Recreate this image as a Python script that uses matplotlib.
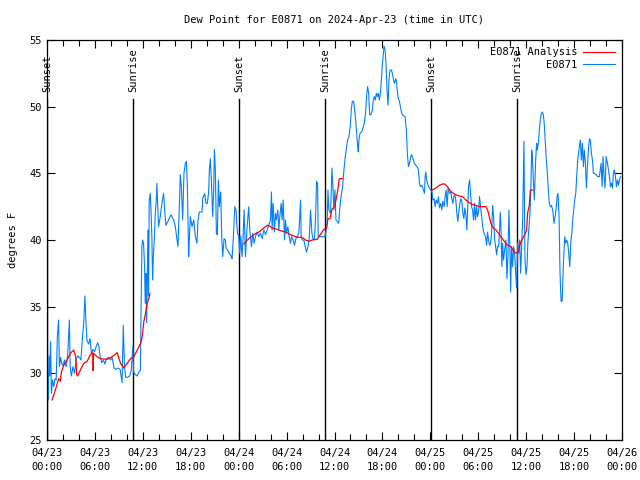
import matplotlib
matplotlib.use("Agg")
import matplotlib.pyplot as plt
import numpy as np

plt.rcParams['font.family'] = ['DejaVu Sans Mono']
plt.rcParams['font.size'] = 7.5

# hours since 04/23 00:00 UTC, dew point (F)
obs_hours = [
    0.10, 0.15, 0.25, 0.35, 0.45, 0.55, 0.70, 0.85, 1.00, 1.15, 1.30, 1.45, 1.55, 1.70, 1.85,
    2.00, 2.20, 2.40, 2.60, 2.80, 2.90, 3.05, 3.25, 3.45, 3.65, 3.85, 4.05, 4.25, 4.45, 4.60,
    4.75, 4.85, 5.00, 5.20, 5.40, 5.55, 5.75, 5.95, 6.15, 6.35, 6.50, 6.65, 6.85, 7.05, 7.25,
    7.45, 7.70, 7.95, 8.15, 8.40, 8.65, 8.90, 9.15, 9.40, 9.55, 9.70, 9.85, 10.10, 10.35, 10.55,
    10.75, 10.85, 11.05, 11.30, 11.50, 11.70,
    11.76, 11.88, 11.97, 12.09, 12.22, 12.30, 12.38, 12.47, 12.55, 12.63, 12.72, 12.80, 12.93,
    13.05, 13.14, 13.22, 13.30, 13.43, 13.56, 13.68, 13.76, 13.85, 13.97, 14.18, 14.39, 14.60,
    14.73, 14.89, 15.23, 15.52, 15.86, 16.07, 16.28, 16.40, 16.57, 16.69, 16.82, 16.99, 17.15,
    17.32, 17.45, 17.57, 17.74, 17.82, 17.95, 18.16, 18.37, 18.58,
    18.78, 18.90, 19.07, 19.41, 19.49, 19.74, 19.91, 20.08, 20.24, 20.33, 20.45, 20.58, 20.75,
    20.87, 20.96, 21.08, 21.21, 21.33, 21.46, 21.58, 21.75, 21.88, 22.00, 22.17, 22.34, 22.42,
    22.75, 23.09, 23.17, 23.34, 23.51, 23.67, 23.76, 23.88, 24.01, 24.13, 24.26, 24.34, 24.43,
    24.55, 24.68, 24.85, 25.06, 25.26, 25.39, 25.60, 25.77, 25.93, 26.10, 26.31, 26.52, 26.73,
    26.94, 27.15, 27.36, 27.57, 27.77,
    27.98, 28.11, 28.19, 28.31, 28.48, 28.61, 28.73, 28.90, 29.03, 29.15, 29.32, 29.44, 29.57,
    29.74, 29.86, 29.99, 30.16, 30.32, 30.49, 30.62, 30.83, 30.99, 31.16, 31.33, 31.54, 31.66,
    31.75, 31.83, 31.95, 32.16, 32.33, 32.50, 32.67, 32.83, 33.00, 33.17, 33.34, 33.50, 33.63,
    33.75, 33.88, 33.96, 34.13, 34.34, 34.67, 34.80, 34.97, 35.09, 35.18, 35.30, 35.51, 35.68,
    35.80, 35.93, 36.06, 36.18, 36.35, 36.52, 36.68, 36.85, 37.02, 37.18, 37.35,
    37.52, 37.64, 37.81, 37.98, 38.10, 38.23, 38.39, 38.52, 38.65, 38.77, 38.90, 38.98, 39.06,
    39.19, 39.40, 39.57, 39.73, 39.90, 40.03, 40.15, 40.28, 40.40, 40.57, 40.74, 40.86, 40.99,
    41.11, 41.24, 41.36, 41.49, 41.62, 41.74, 41.87, 41.99, 42.12, 42.20, 42.33, 42.45, 42.58,
    42.70, 42.83, 42.95, 43.12, 43.25, 43.37, 43.50, 43.67, 43.79, 43.87, 44.00, 44.13, 44.25,
    44.38, 44.50, 44.71, 44.84, 45.00, 45.13, 45.26, 45.38, 45.51, 45.63, 45.76, 45.88, 46.01,
    46.18, 46.34, 46.51, 46.64, 46.76, 46.89, 47.01, 47.14, 47.26, 47.35,
    47.43, 47.55, 47.72, 47.89, 48.06, 48.22, 48.31, 48.47, 48.60, 48.72, 48.89, 49.02, 49.14,
    49.31, 49.44, 49.56, 49.73, 49.85, 49.98, 50.11, 50.23, 50.40, 50.57, 50.69, 50.82, 50.94,
    51.07, 51.19, 51.32, 51.44, 51.57, 51.70, 51.82, 51.95, 52.07, 52.20, 52.32, 52.45, 52.57,
    52.70, 52.78, 52.91, 53.03, 53.16, 53.29, 53.41, 53.54, 53.66, 53.79, 53.91, 54.04, 54.16,
    54.29, 54.41, 54.54, 54.67, 54.79, 54.92, 55.04, 55.17, 55.29, 55.42, 55.54, 55.67, 55.80,
    55.92, 56.05, 56.17, 56.30, 56.42, 56.55, 56.67, 56.76,
    56.84, 56.96, 57.05, 57.17, 57.30, 57.47, 57.59, 57.72, 57.84, 57.97, 58.05, 58.18, 58.30,
    58.43, 58.55, 58.68, 58.80, 58.93, 59.06, 59.18, 59.31, 59.43, 59.56, 59.64, 59.72, 59.85,
    59.98, 60.10, 60.23, 60.35, 60.48, 60.60, 60.69, 60.77, 60.90, 61.02, 61.11, 61.19, 61.31,
    61.40, 61.52, 61.65, 61.77, 61.90, 62.03, 62.15, 62.28, 62.40, 62.53, 62.65, 62.78, 62.90,
    63.03, 63.16, 63.32, 63.49, 63.62, 63.74, 63.87, 63.99, 64.12, 64.24, 64.37, 64.50, 64.58,
    64.70, 64.83, 64.95, 65.08, 65.21, 65.33, 65.46, 65.58, 65.71, 65.83, 65.96, 66.08, 66.21,
    66.45, 66.66, 66.79, 66.91, 67.04, 67.17, 67.29, 67.42, 67.54, 67.67, 67.79, 67.92, 68.04,
    68.17, 68.30, 68.42, 68.55, 68.76, 68.96, 69.17, 69.38, 69.51, 69.63, 69.76, 69.88, 70.01,
    70.18, 70.30, 70.43, 70.55, 70.68, 70.81, 70.93, 71.06, 71.18, 71.31, 71.43, 71.56, 71.68,
    71.81,
]
obs_dewpt = [
    29.0, 28.0, 31.3, 29.8, 32.4, 28.5, 29.5, 29.0, 29.6, 29.5, 32.8, 34.0, 30.5, 31.2, 30.7,
    30.6, 31.0, 30.5, 31.5, 34.0, 30.5, 29.8, 30.5, 30.0, 31.0, 31.3, 31.2, 31.0, 32.8, 33.8,
    35.8, 34.2, 32.5, 32.2, 32.6, 31.5, 31.8, 31.6, 32.0, 32.3, 32.0, 31.3, 30.8, 31.0, 30.7,
    31.1, 31.2, 31.0, 31.2, 30.4, 30.3, 30.4, 30.3, 29.3, 33.6, 30.5, 29.7, 29.7, 29.8, 30.2,
    32.0, 30.1, 29.9, 29.8, 30.1, 30.2,
    34.0, 39.5, 40.0, 39.75, 38.0, 35.25, 37.5, 33.8, 36.5, 40.75, 35.8, 43.0, 43.5,
    41.8, 40.0, 37.0, 38.5, 40.0, 42.0, 43.0, 44.25, 42.75, 41.0, 41.75, 42.75, 43.5,
    42.25, 41.1, 41.5, 41.9, 41.5, 41.0, 40.0, 39.5, 42.5, 44.9, 44.0, 41.5, 45.0,
    45.75, 45.9, 44.25, 38.75, 40.0, 41.75, 41.0, 41.5, 40.25,
    39.75, 41.4, 42.1, 42.1, 43.1, 43.5, 42.75, 42.75, 43.6, 45.25, 46.1, 44.5, 41.75,
    43.6, 46.8, 45.25, 40.5, 40.4, 44.5, 42.5, 43.6, 40.25, 38.75, 40.1, 40.0, 39.4,
    39.1, 38.75, 38.6, 40.25, 42.5, 42.25, 41.25, 40.4, 40.4, 39.0, 40.3, 39.5, 38.75,
    40.25, 42.25, 38.75, 41.0, 42.5, 40.75, 39.5, 40.5, 39.75, 40.25, 40.6, 40.25, 40.5,
    40.1, 40.75, 40.4, 40.75, 41.1,
    41.5, 43.6, 40.75, 42.75, 40.6, 42.0, 41.5, 42.25, 40.75, 41.75, 42.75, 41.5, 43.0,
    40.0, 41.5, 40.5, 41.0, 40.25, 39.75, 40.25, 40.0, 39.6, 40.1, 40.25, 40.5, 42.0,
    43.0, 40.25, 40.0, 40.0, 39.5, 39.1, 39.5, 40.1, 42.25, 40.5, 40.0, 40.1, 41.75,
    44.4, 44.25, 40.25, 40.25, 40.25, 40.25, 40.25, 40.75, 41.5, 43.75, 42.25, 42.0, 45.4,
    44.0, 42.25, 43.75, 41.5, 41.4, 41.25, 42.5, 43.4, 44.0, 45.25, 46.25,
    47.0, 47.5, 47.75, 48.6, 49.75, 50.4, 50.4, 49.75, 49.0, 48.0, 47.0, 46.6, 47.5,
    48.0, 48.1, 48.4, 48.75, 49.6, 50.9, 51.5, 51.0, 49.4, 49.4, 49.75, 50.5, 50.75,
    50.5, 51.0, 50.75, 51.0, 50.5, 51.0, 52.0, 53.1, 54.0, 54.55, 54.25, 53.25, 51.25,
    50.1, 52.1, 52.75, 52.75, 52.5, 52.1, 51.75, 52.1, 51.75, 51.1, 50.6, 50.4, 50.0,
    49.6, 49.4, 49.3, 49.25, 48.25, 46.4, 45.5, 45.75, 46.1, 46.4, 46.25, 46.0, 45.75,
    45.6, 45.5, 45.25, 44.25, 44.0, 44.1, 44.0, 43.75, 43.5, 44.75,
    45.1, 44.5, 44.1, 43.9, 43.75, 43.6, 43.0, 43.1, 42.5, 43.0, 42.75, 43.25, 42.4,
    42.75, 42.25, 42.9, 42.5, 43.25, 43.75, 42.5, 43.9, 43.5, 43.6, 43.1, 42.75, 43.25,
    43.4, 43.0, 42.0, 41.4, 42.1, 42.75, 43.1, 42.9, 42.0, 41.6, 42.4, 41.9, 40.75,
    42.75, 44.0, 44.5, 43.5, 42.5, 42.25, 41.5, 42.75, 41.5, 42.5, 41.75, 42.1, 43.25,
    42.5, 41.75, 41.1, 40.6, 40.4, 40.25, 39.6, 40.6, 40.0, 39.6, 39.75, 40.5, 42.6,
    41.75, 40.1, 39.5, 38.9, 39.5, 39.5, 40.75, 42.1,
    41.0, 38.0, 39.75, 38.5, 39.25, 40.0, 37.1, 38.75, 42.25, 39.25, 36.1, 39.5, 38.0,
    39.5, 39.1, 37.5, 36.4, 39.75, 39.0, 40.0, 37.5, 39.5, 41.5, 44.25, 47.4, 38.5,
    37.4, 38.0, 40.0, 41.0, 42.0, 44.25, 46.75, 46.4, 44.5, 43.0, 44.5, 46.0, 47.25,
    46.75, 47.25, 48.25, 49.0, 49.5, 49.6, 49.4, 48.6, 47.25, 46.0, 45.0, 43.75, 42.75,
    42.5, 42.6, 42.25, 41.25, 41.75, 42.25, 43.25, 43.5, 41.75, 37.5, 35.4, 35.4, 36.75,
    38.75, 40.25, 39.75, 40.0, 39.75, 39.0, 38.0, 39.75, 40.5, 41.5, 42.25, 43.0, 43.5,
    46.0, 47.0, 47.5, 46.0, 47.25, 45.5, 46.75, 45.75, 43.9, 45.5, 46.75, 47.6, 47.5,
    46.5, 46.0, 45.0, 45.0, 44.9, 44.75, 44.75, 45.75, 44.0, 46.25, 44.75, 43.9, 46.25,
    45.75, 45.25, 44.75, 44.0, 44.25, 43.9, 45.1, 45.25, 44.75, 44.0, 44.5, 44.1, 44.5,
    44.75,
]

# analysis, nan marks the gaps
ana_hours = [
    0.63, 1.05, 1.46, 1.67, 1.80, 2.09, 2.51, 2.93, 3.35, 3.60, 3.72, 3.85, 4.18, 4.60, 5.02,
    5.44, 5.65, 5.75, 5.78, 5.82, 6.28, 6.69, 7.53, 8.16, 8.79, 9.21, 9.62, 10.04, 10.46, 10.88,
    11.30, 11.72, 11.92, 12.13, 12.34, 12.55, 12.76, 12.89, 13.0,
    24.64, 25.26, 25.89, 26.52, 27.15, 27.57, 27.86, 28.19, 28.82, 29.24, 29.86, 30.49, 31.33,
    31.95, 32.37, 32.79, 33.21, 33.84, 34.26, 34.67, 35.01, 35.18, 35.43, 35.68, 36.01, 36.18,
    36.35, 36.60, 36.98, 37.1,
    48.26, 48.68, 49.10, 49.52, 49.81, 50.15, 50.48, 50.77, 51.19, 51.61, 52.03, 52.45, 52.87,
    53.29, 53.70, 54.12, 54.96, 55.17, 55.38, 55.59, 55.80, 56.21, 56.54, 56.84, 57.26, 57.67,
    58.09, 58.51, 58.80, 59.06, 59.35, 59.56, 59.89, 60.06, 60.18, 60.39, 60.52, 60.81,
]
ana_dewpt = [
    28.0, 28.75, 29.6, 29.4, 30.1, 30.6, 31.0, 31.5, 31.75, 31.25, 29.9, 29.8, 30.25, 30.75, 30.9,
    31.4, 31.55, 31.5, 30.2, 31.5, 31.25, 31.1, 31.05, 31.25, 31.55, 30.75, 30.4, 30.75, 31.1, 31.25,
    31.75, 32.25, 32.75, 33.9, 34.5, 35.25, 35.6, 36.0, np.nan,
    39.7, 40.1, 40.4, 40.6, 40.9, 41.1, 41.05, 40.9, 40.8, 40.7, 40.6, 40.4, 40.2,
    40.2, 40.0, 39.9, 40.0, 40.05, 40.45, 40.8, 40.9, 41.6, 41.6, 42.3, 42.5, 43.0,
    43.5, 44.6, 44.6, np.nan,
    43.75, 43.9, 44.1, 44.2, 44.2, 44.0, 43.7, 43.55, 43.4, 43.3, 43.25, 43.0, 42.8,
    42.65, 42.6, 42.5, 42.5, 42.25, 41.75, 41.25, 40.95, 40.75, 40.5, 40.25, 39.9, 39.6,
    39.5, 39.1, 39.0, 39.25, 39.9, 40.1, 40.5, 40.75, 42.0, 42.6, 43.75, 43.75,
]

sun_hours = [0.03, 10.83, 24.03, 34.8, 48.07, 58.88]
sun_labels = ['Sunset', 'Sunrise', 'Sunset', 'Sunrise', 'Sunset', 'Sunrise']

tick_hours = [0, 6, 12, 18, 24, 30, 36, 42, 48, 54, 60, 66, 72]
tick_labels = ['04/23\n00:00', '04/23\n06:00', '04/23\n12:00', '04/23\n18:00',
               '04/24\n00:00', '04/24\n06:00', '04/24\n12:00', '04/24\n18:00',
               '04/25\n00:00', '04/25\n06:00', '04/25\n12:00', '04/25\n18:00',
               '04/26\n00:00']

fig = plt.figure(figsize=(6.4, 4.8), dpi=100)
ax = fig.add_axes([47 / 640, 40 / 480, 575 / 640, 400 / 480])

for h, lab in zip(sun_hours, sun_labels):
    ax.plot([h, h], [25, 50.6], color='black', lw=1.0, zorder=1)
    ax.text(h, 51.1, lab, rotation=90, ha='center', va='bottom', fontsize=7.5)

ax.plot(ana_hours, ana_dewpt, color='#ff0000', lw=0.9, label='E0871 Analysis', zorder=3)
ax.plot(obs_hours, obs_dewpt, color='#0080ff', lw=0.8, label='E0871', zorder=2)

ax.set_xlim(0, 72)
ax.set_ylim(25, 55)
ax.set_xticks(tick_hours)
ax.set_xticklabels(tick_labels, linespacing=1.45)
ax.set_xticks(np.arange(0, 73, 2), minor=True)
ax.set_yticks([25, 30, 35, 40, 45, 50, 55])
ax.tick_params(direction='in', top=True, right=True, length=6, width=0.8, pad=6)
ax.tick_params(which='minor', direction='in', top=True, length=4, width=0.8)
ax.tick_params(axis='y', pad=4)
for s in ax.spines.values():
    s.set_linewidth(0.9)

ax.set_title('Dew Point for E0871 on 2024-Apr-23 (time in UTC)', fontsize=7.5, pad=12)
ax.set_ylabel('degrees F', labelpad=8)

ax.legend(loc='upper right', frameon=False, markerfirst=False, handlelength=3.0,
          handletextpad=0.6, labelspacing=0.25, borderaxespad=0.3, fontsize=7.5)

fig.savefig('out.png', dpi=100)
